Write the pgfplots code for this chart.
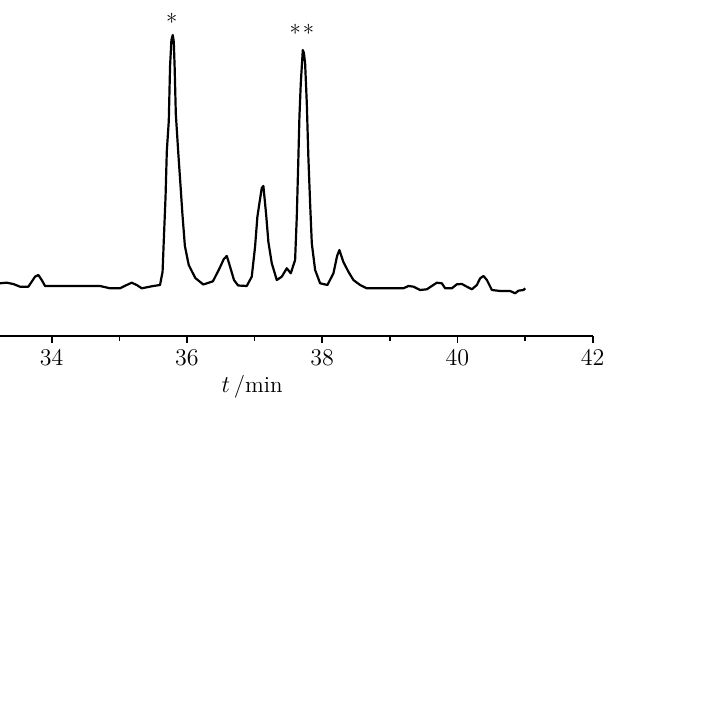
\documentclass[border=0pt]{standalone}
\usepackage{pgfplots}
\pgfplotsset{compat=1.18}
\begin{document}
\begin{tikzpicture}
\useasboundingbox (0,0) rectangle (350.5pt,350.5pt);
\begin{axis}[
  at={(0pt,182.5pt)}, anchor=south west,
  scale only axis, width=296.35pt, height=168pt,
  xmin=33.235, xmax=42, ymin=0, ymax=336,
  axis x line=bottom, axis y line=none,
  x axis line style={-, line width=1pt},
  xtick={34,36,38,40,42},
  minor x tick num=1,
  tick align=outside,
  major tick length=3.5pt, minor tick length=2.5pt,
  every tick/.style={black, line width=0.8pt},
  tick label style={font=\fontsize{11.5}{13}\selectfont},
  clip=false,
]
% chromatogram trace
\addplot[black, line width=1.1pt, line join=round] coordinates {
(33.235,52.7) (33.334,53.3) (33.432,52) (33.531,49.3) (33.654,49.3) (33.704,54.3)
(33.753,59.3) (33.802,61) (33.852,56) (33.901,50) (34.714,50) (34.862,47.7)
(35.010,47.7) (35.109,51) (35.183,53.3) (35.257,51) (35.331,47.7) (35.405,48.7)
(35.503,50) (35.602,51) (35.621,58) (35.639,64) (35.654,90) (35.683,139)
(35.702,185) (35.731,215) (35.750,270) (35.770,296) (35.790,301) (35.805,294)
(35.818,268) (35.835,222) (35.874,180.5) (35.907,148) (35.932,122.5) (35.969,90)
(36.026,71) (36.123,58) (36.241,51.5) (36.384,54.7) (36.481,67.6) (36.545,77)
(36.589,80) (36.630,71) (36.695,56) (36.756,50.5) (36.884,50) (36.958,59.3)
(37.007,89.3) (37.041,119) (37.071,132.7) (37.106,148) (37.130,150) (37.170,122)
(37.204,94) (37.254,72.7) (37.328,56) (37.402,59.3) (37.476,67.7) (37.535,62.7)
(37.599,76) (37.624,119.3) (37.648,179.3) (37.663,219.3) (37.683,252.7) (37.713,286)
(37.729,283) (37.747,272.7) (37.772,232.7) (37.795,179.3) (37.821,132.7) (37.846,92.7)
(37.895,66) (37.969,52.7) (38.077,51) (38.166,62.7) (38.220,80) (38.254,86)
(38.313,74) (38.387,64.3) (38.461,56) (38.560,51) (38.659,47.7) (39.201,47.7)
(39.275,50) (39.349,49.3) (39.448,46) (39.547,46.7) (39.621,50) (39.695,53.3)
(39.769,52.7) (39.818,47.7) (39.917,47.7) (39.991,51.7) (40.065,52) (40.139,49.3)
(40.213,46.7) (40.287,51) (40.336,57.7) (40.385,60) (40.435,56) (40.509,46)
(40.632,45) (40.779,45) (40.853,42.7) (40.902,45.3) (40.976,46) (41.001,47.7)
};
\node[font=\fontsize{11.5}{13}\selectfont] at (axis cs:35.775,314.3) {*};
\node[font=\fontsize{11.5}{13}\selectfont] at (axis cs:37.698,302.7) {*\hspace{1pt}*};
\node[font=\fontsize{11.5}{13}\selectfont] at (axis cs:36.963,-51) {$t$\,/min};
\end{axis}
\end{tikzpicture}
\end{document}
